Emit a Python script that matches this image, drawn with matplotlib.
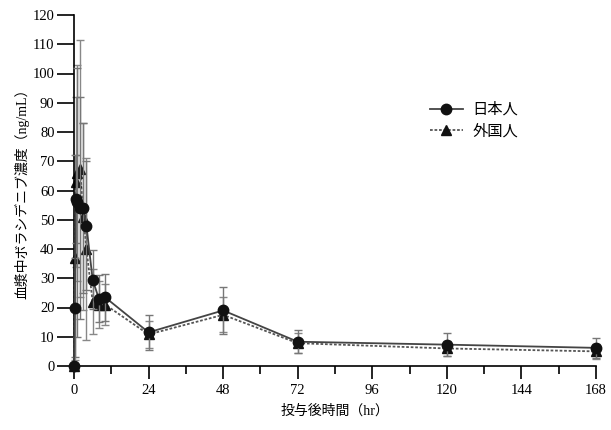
import matplotlib
matplotlib.use("Agg")
import matplotlib.pyplot as plt
from matplotlib.lines import Line2D

plt.rcParams['font.family'] = ['Liberation Serif', 'Noto Sans CJK JP']

# Data
times = [0, 0.25, 0.5, 1, 2, 3, 4, 6, 8, 10, 24, 48, 72, 120, 168]
jp_mean = [0, 20, 57, 56, 54, 54, 48, 29.5, 23, 23.5, 11.5, 19, 8.3, 7.3, 6.2]
jp_sd = [0, 17, 15, 46, 38, 29, 22, 10, 8, 8, 6, 8, 4, 4, 3.5]
fg_mean = [0, 37, 63, 66, 67.5, 51, 40, 22, 21, 21, 10.8, 17.5, 7.8, 6.0, 5.0]
fg_sd = [0, 35, 29, 37, 44, 32, 31, 11, 8, 7, 4.5, 6, 3.5, 2.5, 2.5]

labels = ['日本人', '外国人']
xticks = [0, 24, 48, 72, 96, 120, 144, 168]
yticks = list(range(0, 121, 10))

fig = plt.figure(figsize=(6.11, 4.30), dpi=100)
ax = fig.add_axes([74/611, 1-366/430, (596-74)/611, (366-15)/430])

fg_style = dict(color='#555555', ls=(0, (1.5, 1)), lw=1.3, marker='^', ms=7,
                mfc='#111111', mec='#111111')
jp_style = dict(color='#444444', ls='-', lw=1.3, marker='o', ms=7.5,
                mfc='#111111', mec='#111111')

ax.errorbar(times, fg_mean, yerr=fg_sd, ecolor='#888888', elinewidth=1.0,
            capsize=3, capthick=1.0, zorder=2, clip_on=False, **fg_style)
ax.errorbar(times, jp_mean, yerr=jp_sd, ecolor='#777777', elinewidth=1.0,
            capsize=3, capthick=1.0, zorder=3, clip_on=False, **jp_style)

ax.set_xlim(0, 168)
ax.set_ylim(0, 120)
ax.spines['top'].set_visible(False)
ax.spines['right'].set_visible(False)
ax.spines['left'].set_linewidth(1.2)
ax.spines['bottom'].set_linewidth(1.2)
ax.set_xticks(xticks)
ax.set_xticks(list(range(12, 168, 24)), minor=True)
ax.set_yticks(yticks)
ax.tick_params(axis='y', length=12, width=1.2, labelsize=10.5, pad=2)
ax.tick_params(axis='x', which='major', length=9, width=1.2, labelsize=10.5, pad=4)
ax.tick_params(axis='x', which='minor', length=5.5, width=1.2)

ax.set_xlabel('投与後時間（hr）', fontsize=10, labelpad=5)
ax.set_ylabel('血漿中ボラシデニブ濃度（ng/mL）', fontsize=10, labelpad=2)

handles = [Line2D([], [], **jp_style), Line2D([], [], **fg_style)]
ax.legend(handles, labels, loc='upper left', bbox_to_anchor=(0.655, 0.79),
          frameon=False, fontsize=11, handlelength=2.2, labelspacing=0.45,
          handletextpad=0.6)

fig.savefig('out.png', dpi=100)
